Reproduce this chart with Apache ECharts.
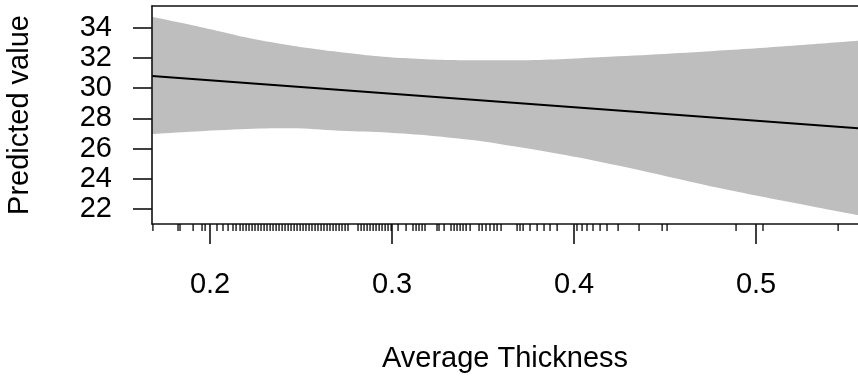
<!DOCTYPE html>
<html><head><meta charset="utf-8">
<script src="https://cdn.jsdelivr.net/npm/echarts@6/dist/echarts.min.js"></script>
<style>html,body{margin:0;padding:0;background:#fff}#c{width:858px;height:379px}</style>
</head><body><div id="c"></div>
<script>
const xTicks = [0.2, 0.3, 0.4, 0.5];
const yTicks = [22, 24, 26, 28, 30, 32, 34];
const upperX = [0.1681, 0.1853, 0.2037, 0.2220, 0.2403, 0.2586, 0.2769, 0.2952, 0.3136, 0.3319, 0.3502, 0.3648, 0.414, 0.485, 0.556];
const upperY = [34.73, 34.29, 33.80, 33.30, 32.90, 32.57, 32.31, 32.08, 31.95, 31.86, 31.84, 31.84, 32.04, 32.52, 33.14];
const lowerX = [0.1681, 0.2165, 0.244, 0.271, 0.2989, 0.326, 0.359, 0.414, 0.485, 0.556];
const lowerY = [26.96, 27.28, 27.34, 27.18, 27.05, 26.79, 26.30, 25.13, 23.26, 21.60];
const fitX = [0.1681, 0.556];
const fitY = [30.80, 27.34];
const rugX = [0.1686, 0.1824, 0.1835, 0.1907, 0.1956, 0.1973, 0.2038, 0.2071, 0.2099, 0.2126, 0.2143,
  0.2165, 0.2181, 0.2198, 0.2214, 0.2231, 0.2247, 0.2264, 0.2280, 0.2297, 0.2313, 0.2330, 0.2346,
  0.2363, 0.2379, 0.2396, 0.2412, 0.2429, 0.2445, 0.2462, 0.2478, 0.2495, 0.2511, 0.2527, 0.2544,
  0.2560, 0.2577, 0.2593, 0.2610, 0.2626, 0.2643, 0.2659, 0.2676, 0.2692, 0.2709, 0.2725, 0.2742,
  0.2758, 0.2813, 0.2830, 0.2846, 0.2863, 0.2879, 0.2896, 0.2912, 0.2929, 0.2945, 0.2962, 0.2978,
  0.2995, 0.3033, 0.3077, 0.3115, 0.3132, 0.3148, 0.3165, 0.3181, 0.3247, 0.3258, 0.3286, 0.3324,
  0.3341, 0.3357, 0.3374, 0.3390, 0.3407, 0.3429, 0.3478, 0.3495, 0.3516, 0.3538, 0.3560, 0.3577,
  0.3599, 0.3687, 0.3703, 0.3720, 0.3758, 0.3797, 0.3835, 0.3868, 0.3907, 0.4016, 0.4044, 0.4071,
  0.4104, 0.4143, 0.4181, 0.4242, 0.4357, 0.4484, 0.4511, 0.4890, 0.5038, 0.5451];
const X_MIN = 0.1681, X_MAX = 0.556, Y_MIN = 21.0, Y_MAX = 35.44;
const xTitle = 'Average Thickness';
const yTitle = 'Predicted value';

const FONT = '"Liberation Sans", Arial, sans-serif';
const lineCol = '#111';
const chart = echarts.init(document.getElementById('c'), null, {renderer: 'canvas'});
chart.setOption({
  animation: false,
  backgroundColor: '#fff',
  grid: {left: 152, top: 6, right: 0, bottom: 155, containLabel: false, outerBoundsMode: 'none'},
  xAxis: [{
    type: 'value', min: X_MIN, max: X_MAX, position: 'bottom', z: 10,
    name: xTitle, nameLocation: 'middle', nameGap: 120,
    nameTextStyle: {fontSize: 29, color: '#000', fontFamily: FONT},
    axisLine: {show: true, onZero: false, lineStyle: {color: lineCol, width: 1.6}},
    axisTick: {show: true, length: 20, customValues: xTicks, lineStyle: {color: lineCol, width: 1.6}},
    axisLabel: {customValues: xTicks, margin: 46, fontSize: 29, color: '#000', fontFamily: FONT,
      formatter: v => String(v)},
    splitLine: {show: false}
  }, {
    type: 'value', min: X_MIN, max: X_MAX, position: 'top', z: 10,
    axisLine: {show: true, onZero: false, lineStyle: {color: lineCol, width: 1.6}},
    axisTick: {show: false}, axisLabel: {show: false}, splitLine: {show: false}
  }],
  yAxis: {
    type: 'value', min: Y_MIN, max: Y_MAX, z: 10,
    name: yTitle, nameLocation: 'middle', nameGap: 118, nameRotate: 90,
    nameTextStyle: {fontSize: 29, color: '#000', fontFamily: FONT},
    axisLine: {show: true, onZero: false, lineStyle: {color: lineCol, width: 1.6}},
    axisTick: {show: true, length: 19, customValues: yTicks, lineStyle: {color: lineCol, width: 1.6}},
    axisLabel: {customValues: yTicks, margin: 40, fontSize: 29, color: '#000', fontFamily: FONT},
    splitLine: {show: false}
  },
  series: [{
    // upper confidence bound, filled down to the bottom of the plot
    type: 'line', smooth: 0.4, symbol: 'none', silent: true,
    data: upperX.map((x, i) => [x, upperY[i]]),
    lineStyle: {opacity: 0},
    areaStyle: {color: '#BEBEBE', opacity: 1, origin: 'start'}
  }, {
    // lower confidence bound, white fill below it to cut the band
    type: 'line', smooth: 0.4, symbol: 'none', silent: true,
    data: lowerX.map((x, i) => [x, lowerY[i]]),
    lineStyle: {opacity: 0},
    areaStyle: {color: '#FFFFFF', opacity: 1, origin: 'start'}
  }, {
    type: 'line', symbol: 'none', silent: true,
    data: fitX.map((x, i) => [x, fitY[i]]),
    lineStyle: {color: '#000', width: 2}
  }, {
    type: 'scatter', silent: true, clip: false, z: 11,
    data: rugX.map(x => [x, Y_MIN]),
    symbol: 'rect', symbolSize: [1.6, 7], symbolOffset: [0, 3.5],
    itemStyle: {color: '#000'}
  }]
});
</script>
</body></html>
